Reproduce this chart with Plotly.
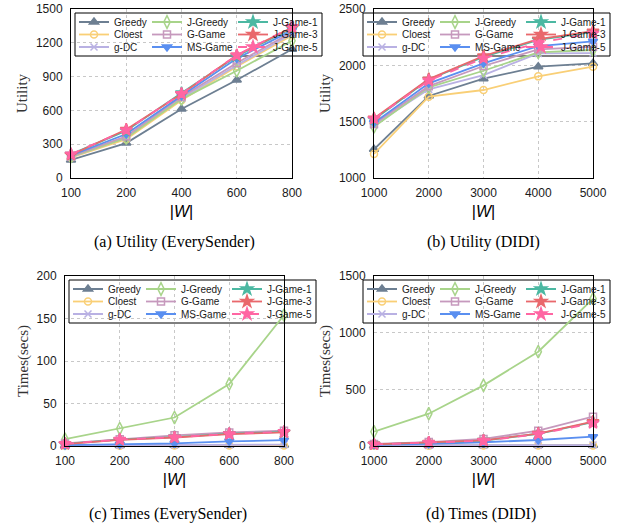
import plotly.graph_objects as go

# ---------------- data ----------------
W_EVERY = ["100", "200", "400", "600", "800"]
W_DIDI = ["1000", "2000", "3000", "4000", "5000"]
SERIES = ["Greedy", "Cloest", "g-DC", "J-Greedy", "G-Game", "MS-Game",
          "J-Game-1", "J-Game-3", "J-Game-5"]

UTIL_EVERY = {
    "Greedy":   [160, 310, 612, 870, 1142],
    "Cloest":   [180, 345, 690, 990, 1265],
    "g-DC":     [185, 360, 705, 1000, 1280],
    "J-Greedy": [190, 355, 700, 952, 1218],
    "G-Game":   [195, 370, 720, 1020, 1295],
    "MS-Game":  [200, 390, 730, 1060, 1310],
    "J-Game-1": [210, 420, 755, 1080, 1330],
    "J-Game-3": [205, 430, 745, 1090, 1335],
    "J-Game-5": [212, 425, 748, 1090, 1342],
}
UTIL_DIDI = {
    "Greedy":   [1255, 1728, 1881, 1988, 2018],
    "Cloest":   [1213, 1722, 1781, 1902, 1988],
    "g-DC":     [1470, 1787, 1914, 2106, 2109],
    "J-Greedy": [1455, 1805, 1952, 2115, 2136],
    "G-Game":   [1480, 1815, 1994, 2142, 2165],
    "MS-Game":  [1490, 1840, 2018, 2171, 2213],
    "J-Game-1": [1520, 1875, 2075, 2225, 2295],
    "J-Game-3": [1530, 1878, 2083, 2233, 2304],
    "J-Game-5": [1525, 1865, 2062, 2200, 2284],
}
TIME_EVERY = {
    "Greedy":   [0.5, 0.6, 0.8, 1.0, 1.2],
    "Cloest":   [0.3, 0.4, 0.5, 0.6, 0.7],
    "g-DC":     [0.8, 1.0, 1.2, 1.4, 1.6],
    "J-Greedy": [8, 20.5, 33.5, 73, 154],
    "G-Game":   [3, 8, 12.5, 16, 18],
    "MS-Game":  [1, 1.8, 3, 5.5, 6.8],
    "J-Game-1": [2.5, 7.5, 10.5, 14.5, 16.5],
    "J-Game-3": [2.3, 7.2, 10, 14, 16],
    "J-Game-5": [2.6, 7.6, 10.3, 14.3, 16.8],
}
TIME_DIDI = {
    "Greedy":   [3, 4, 5, 6, 7],
    "Cloest":   [2, 3, 3.5, 4, 4.5],
    "g-DC":     [4, 5, 6, 7, 8],
    "J-Greedy": [126, 285, 535, 832, 1300],
    "G-Game":   [18, 35, 62, 135, 259],
    "MS-Game":  [10, 18, 33, 53, 82],
    "J-Game-1": [15, 30, 48, 108, 210],
    "J-Game-3": [15, 31, 49, 110, 215],
    "J-Game-5": [14, 30, 46, 104, 202],
}

Y_TICKS_UTIL_EVERY = [0, 300, 600, 900, 1200, 1500]
Y_TICKS_UTIL_DIDI = [1000, 1500, 2000, 2500]
Y_TICKS_TIME_EVERY = [0, 50, 100, 150, 200]
Y_TICKS_TIME_DIDI = [0, 500, 1000, 1500]

CAPTIONS = ["(a) Utility (EverySender)", "(b) Utility (DIDI)",
            "(c) Times (EverySender)", "(d) Times (DIDI)"]

# ---------------- styles ----------------
STYLE = {
    "Greedy":   dict(color="#6d7f92", symbol="triangle-up", size=8, dash="solid"),
    "Cloest":   dict(color="#f9cf76", symbol="circle-open", size=7, dash="solid"),
    "g-DC":     dict(color="#b9b1e3", symbol="x-thin-open", size=7, dash="solid"),
    "J-Greedy": dict(color="#a8d48a", symbol="diamond-tall-open", size=9, dash="solid"),
    "G-Game":   dict(color="#c699bd", symbol="square-open", size=7, dash="solid"),
    "MS-Game":  dict(color="#5a8ff0", symbol="triangle-down", size=8, dash="solid"),
    "J-Game-1": dict(color="#4cb8a2", symbol="star", size=9, dash="solid"),
    "J-Game-3": dict(color="#e9686c", symbol="star", size=9, dash="solid"),
    "J-Game-5": dict(color="#ff66a3", symbol="star", size=9, dash="dash"),
}
COL_WIDTH = [28, 41, 45]

FIG_W, FIG_H = 618, 529
SANS = "Arial, Liberation Sans, sans-serif"
SERIF = "Times New Roman, Liberation Serif, serif"

# panel geometry in pixels: left, right, top, bottom
PANELS = [
    dict(x=W_EVERY, data=UTIL_EVERY, yr=[0, 1500], yt=Y_TICKS_UTIL_EVERY, ytitle="Utility",
         box=(71, 292, 9, 178), leg_left=74, cap=(174, 242)),
    dict(x=W_DIDI, data=UTIL_DIDI, yr=[1000, 2500], yt=Y_TICKS_UTIL_DIDI, ytitle="Utility",
         box=(374, 593, 9, 178), leg_left=362, cap=(483, 242)),
    dict(x=W_EVERY, data=TIME_EVERY, yr=[0, 200], yt=Y_TICKS_TIME_EVERY, ytitle="Times(secs)",
         box=(65, 284, 276, 446), leg_left=68, cap=(168, 514)),
    dict(x=W_DIDI, data=TIME_DIDI, yr=[0, 1500], yt=Y_TICKS_TIME_DIDI, ytitle="Times(secs)",
         box=(374, 593, 276, 446), leg_left=362, cap=(481, 514)),
]

fig = go.Figure()
layout = dict(width=FIG_W, height=FIG_H, margin=dict(l=0, r=0, t=0, b=0, pad=0, autoexpand=False),
              paper_bgcolor="white", plot_bgcolor="rgba(0,0,0,0)",
              font=dict(family=SANS, size=12, color="#1a1a1a"),
              showlegend=True, shapes=[], annotations=[])

LEG_W = 249
for p, P in enumerate(PANELS):
    L, R, T, B = P["box"]
    xa = "x" if p == 0 else f"x{p+1}"
    ya = "y" if p == 0 else f"y{p+1}"
    xkey = "xaxis" if p == 0 else f"xaxis{p+1}"
    ykey = "yaxis" if p == 0 else f"yaxis{p+1}"
    axis_common = dict(showline=True, linecolor="black", linewidth=1, mirror=True,
                       showgrid=True, gridcolor="#c8c8c8", griddash="dot", gridwidth=1,
                       ticks="", zeroline=False, automargin=False,
                       tickfont=dict(family=SANS, size=12, color="#1a1a1a"))
    layout[xkey] = dict(axis_common, domain=[L / FIG_W, R / FIG_W], anchor=ya,
                        type="category", range=[0, len(P["x"]) - 1],
                        ticklabelstandoff=4,
                        title=dict(text="|<i>W</i>|", font=dict(family=SANS, size=16, color="black"),
                                   standoff=6))
    layout[ykey] = dict(axis_common, domain=[1 - B / FIG_H, 1 - T / FIG_H], anchor=xa,
                        range=P["yr"], tickvals=P["yt"], ticklabelstandoff=5,
                        title=dict(text=P["ytitle"], font=dict(family=SERIF, size=15, color="#333"),
                                   standoff=4))
    for i, name in enumerate(SERIES):
        st = STYLE[name]
        row, col = i % 3, i // 3
        k = p * 3 + row + 1
        leg = "legend" if k == 1 else f"legend{k}"
        fig.add_trace(go.Scatter(
            x=P["x"], y=P["data"][name], name=name, xaxis=xa, yaxis=ya,
            mode="lines+markers", cliponaxis=False,
            line=dict(color=st["color"], width=1.8, dash=st["dash"]),
            marker=dict(symbol=st["symbol"], size=st["size"], color=st["color"],
                        line=dict(color=st["color"], width=1.5)),
            legend=leg, legendwidth=COL_WIDTH[col], showlegend=True))
    # legend rows
    for row in range(3):
        k = p * 3 + row + 1
        key = "legend" if k == 1 else f"legend{k}"
        center = T + 13 + 12.5 * row
        top = center - 14.5
        layout[key] = dict(orientation="h", x=P["leg_left"] / FIG_W, xanchor="left",
                           y=1 - top / FIG_H, yanchor="top", bgcolor="rgba(0,0,0,0)",
                           borderwidth=0, itemwidth=30, font=dict(family=SANS, size=10, color="#1a1a1a"),
                           itemclick=False, itemdoubleclick=False)
    # legend frame
    bl = P["leg_left"] + 1
    layout["shapes"].append(dict(type="rect", xref="paper", yref="paper", layer="below",
                                 x0=bl / FIG_W, x1=(bl + LEG_W - 2) / FIG_W,
                                 y0=1 - (T + 47) / FIG_H, y1=1 - (T + 4) / FIG_H,
                                 fillcolor="white", line=dict(color="black", width=1)))
    cx, cy = P["cap"]
    layout["annotations"].append(dict(text=CAPTIONS[p], xref="paper", yref="paper",
                                      x=cx / FIG_W, y=1 - cy / FIG_H, xanchor="center",
                                      yanchor="middle", showarrow=False,
                                      font=dict(family=SERIF, size=16, color="black")))

fig.update_layout(**layout)
fig.write_html("out.html", config={"displayModeBar": False},
               post_script="document.body.style.margin='0px';")
